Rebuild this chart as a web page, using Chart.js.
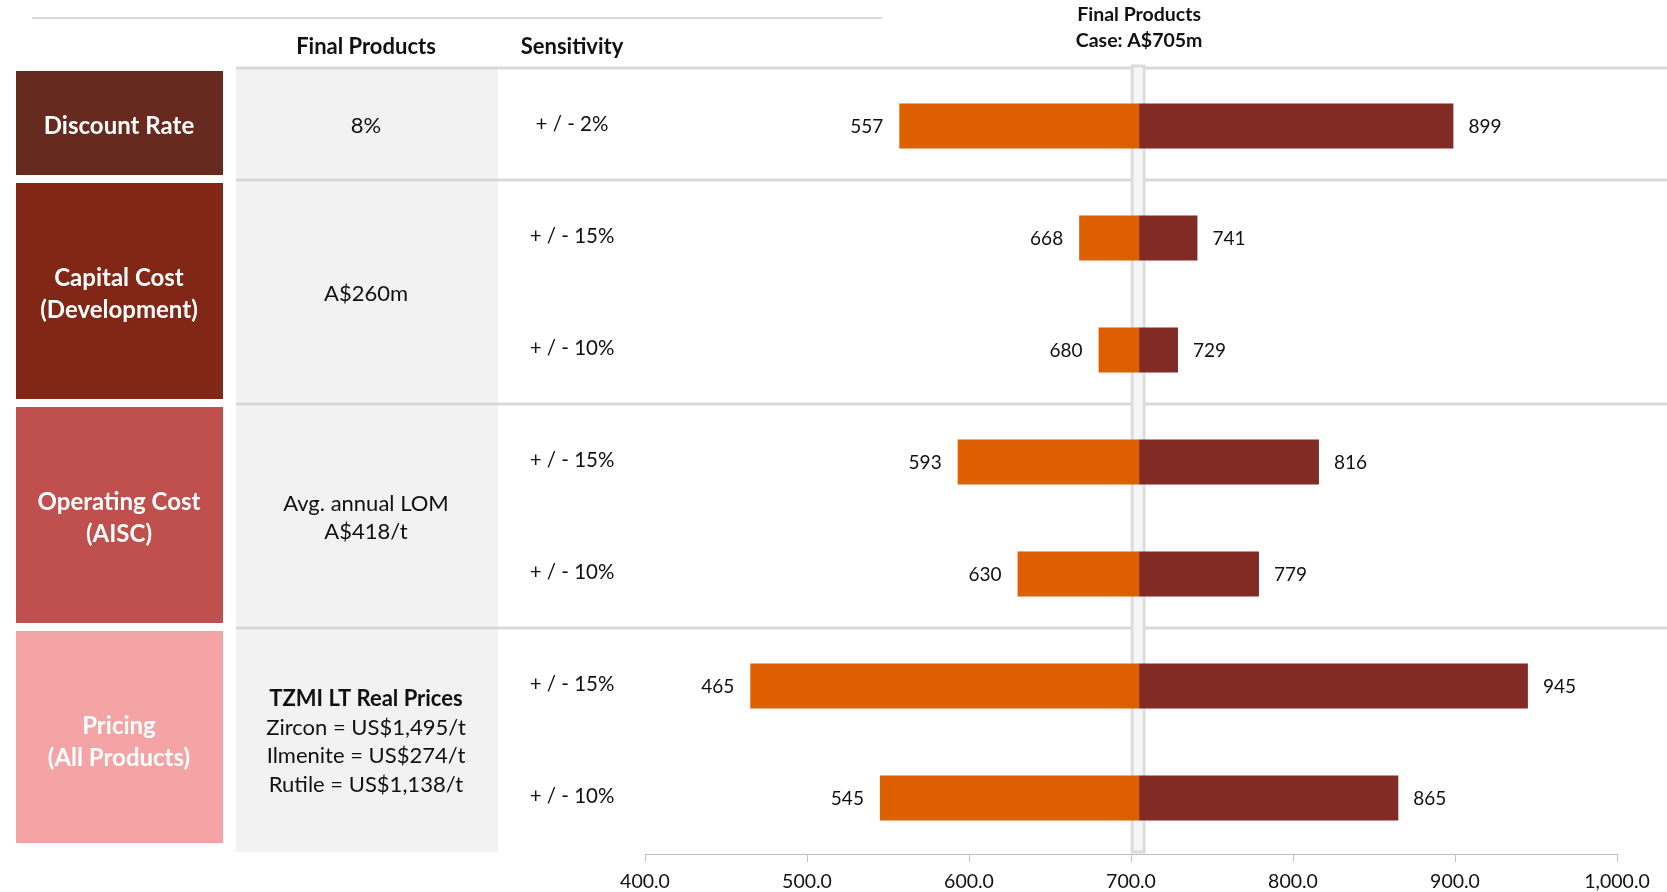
<!DOCTYPE html>
<html>
<head>
<meta charset="utf-8">
<script src="https://cdn.jsdelivr.net/npm/chart.js@4"></script>
<style>
  html, body { margin: 0; padding: 0; background: #fff; }
  #wrap { position: relative; width: 1667px; height: 892px; }
</style>
</head>
<body>
<div id="wrap"><canvas id="tornado"></canvas></div>
<script>
// rows of the tornado, top to bottom
const sensitivities = ["+ / - 2%", "+ / - 15%", "+ / - 10%", "+ / - 15%", "+ / - 10%", "+ / - 15%", "+ / - 10%"];
const lowCase = [557, 668, 680, 593, 630, 465, 545];
const highCase = [899, 741, 729, 816, 779, 945, 865];
const baseCase = 705;

// groups of rows
const drivers = [["Discount Rate"], ["Capital Cost", "(Development)"], ["Operating Cost", "(AISC)"], ["Pricing", "(All Products)"]];
const driverColors = ["#662a1e", "#822616", "#c0504d", "#f5a4a5"];
const driverRows = [[0, 0], [1, 2], [3, 4], [5, 6]];
const finalProducts = [["8%"], ["A$260m"], ["Avg. annual LOM", "A$418/t"], ["TZMI LT Real Prices", "Zircon = US$1,495/t", "Ilmenite = US$274/t", "Rutile = US$1,138/t"]];
const finalBoldFirst = [false, false, false, true];

// x axis
const xMin = 400, xMax = 1000, xStep = 100;

const FONT = "Lato, 'Open Sans', sans-serif";
const LINE = "#d9d9d9";

function font(size, bold) {
  return (bold ? "bold " : "") + size + "px " + FONT;
}

const tablePlugin = {
  id: "table",
  beforeDatasetsDraw(chart) {
    const ctx = chart.ctx;
    const y = chart.scales.y;
    const x = chart.scales.x;
    const step = y.getPixelForValue(1) - y.getPixelForValue(0);
    const edge = i => y.getPixelForValue(i) - step / 2 - 2;
    const bottom = chart.chartArea.bottom;
    ctx.save();

    // thin line on top
    ctx.fillStyle = LINE;
    ctx.fillRect(32, 17, 850, 2);

    // column headers
    ctx.fillStyle = "#111";
    ctx.textAlign = "center";
    ctx.textBaseline = "middle";
    ctx.font = font(22, true);
    ctx.fillText("Final Products", 366, 47);
    ctx.fillText("Sensitivity", 572, 47);

    // title above the base case line
    const bx = x.getPixelForValue(baseCase);
    ctx.font = font(19.5, true);
    ctx.fillText("Final Products", bx, 15);
    ctx.fillText("Case: A$" + baseCase + "m", bx, 41);

    // grey column
    ctx.fillStyle = "#f2f2f2";
    ctx.fillRect(236, edge(0), 262, bottom - 2 - edge(0));

    // driver boxes and final products text
    driverRows.forEach((r, k) => {
      const top = edge(r[0]);
      const bot = r[1] === sensitivities.length - 1 ? bottom - 6 : edge(r[1] + 1);
      ctx.fillStyle = driverColors[k];
      ctx.fillRect(16, top + 3, 207, bot - top - 8);
      const cy = (y.getPixelForValue(r[0]) + y.getPixelForValue(r[1])) / 2;

      ctx.fillStyle = "#fff";
      ctx.font = font(24, true);
      const dl = drivers[k];
      dl.forEach((t, j) => ctx.fillText(t, 119, cy + (j - (dl.length - 1) / 2) * 32));

      ctx.fillStyle = "#111";
      const fl = finalProducts[k];
      fl.forEach((t, j) => {
        ctx.font = font(22, finalBoldFirst[k] && j === 0);
        ctx.fillText(t, 366, cy + (j - (fl.length - 1) / 2) * 28.7);
      });
    });

    // separators
    ctx.fillStyle = LINE;
    driverRows.forEach(r => ctx.fillRect(236, edge(r[0]) - 1.5, 1431, 3));

    // sensitivity text
    ctx.fillStyle = "#111";
    ctx.font = font(20.5, false);
    sensitivities.forEach((t, i) => ctx.fillText(t, 572, y.getPixelForValue(i) - 2));

    // base case band
    ctx.fillStyle = "#f6f6f6";
    ctx.strokeStyle = "#dcdcdc";
    ctx.lineWidth = 3;
    ctx.fillRect(bx - 7, edge(0) - 2, 12, bottom - edge(0));
    ctx.strokeRect(bx - 7, edge(0) - 2, 12, bottom - edge(0));
    ctx.restore();
  },
  afterDatasetsDraw(chart) {
    const ctx = chart.ctx;
    const y = chart.scales.y;
    const x = chart.scales.x;
    ctx.save();
    ctx.fillStyle = "#111";
    ctx.font = font(19, false);
    ctx.textBaseline = "middle";
    lowCase.forEach((v, i) => {
      ctx.textAlign = "right";
      ctx.fillText(String(v), x.getPixelForValue(v) - 16, y.getPixelForValue(i) + 1);
    });
    highCase.forEach((v, i) => {
      ctx.textAlign = "left";
      ctx.fillText(String(v), x.getPixelForValue(v) + 15, y.getPixelForValue(i) + 1);
    });
    ctx.restore();
  }
};

new Chart(document.getElementById("tornado"), {
  type: "bar",
  data: {
    labels: sensitivities,
    datasets: [
      {
        label: "Low",
        data: lowCase.map(v => [v, baseCase]),
        backgroundColor: "#de5e02",
        grouped: false,
        barPercentage: 0.4,
        categoryPercentage: 1
      },
      {
        label: "High",
        data: highCase.map(v => [baseCase, v]),
        backgroundColor: "#822b24",
        grouped: false,
        barPercentage: 0.4,
        categoryPercentage: 1
      }
    ]
  },
  options: {
    indexAxis: "y",
    responsive: true,
    maintainAspectRatio: false,
    animation: false,
    layout: { padding: { left: 645, right: 50, top: 70, bottom: 0 } },
    plugins: {
      legend: { display: false },
      tooltip: { enabled: false }
    },
    scales: {
      y: { display: false },
      x: {
        min: xMin,
        max: xMax,
        ticks: {
          stepSize: xStep,
          color: "#111",
          padding: 8,
          maxRotation: 0,
          font: { family: FONT, size: 19.5 },
          callback: v => v.toLocaleString("en-US", { minimumFractionDigits: 1, maximumFractionDigits: 1 })
        },
        grid: { drawOnChartArea: false, tickLength: 8, color: "#bfbfbf" },
        border: { color: "#bfbfbf" },
        afterFit: s => { s.height = 38; }
      }
    }
  },
  plugins: [tablePlugin]
});
</script>
</body>
</html>
